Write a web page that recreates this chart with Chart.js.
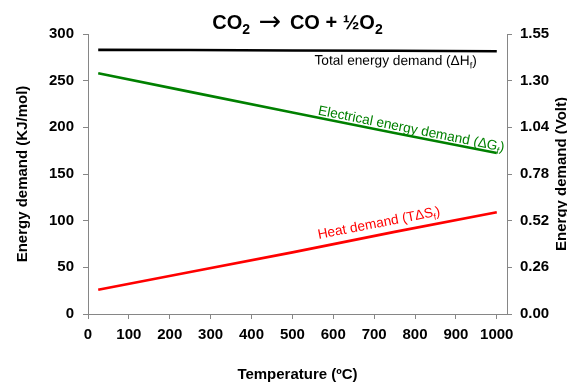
<!DOCTYPE html>
<html>
<head>
<meta charset="utf-8">
<script src="https://cdn.jsdelivr.net/npm/chart.js@4.4.1/dist/chart.umd.min.js"></script>
<style>
html, body { margin: 0; padding: 0; background: #fff; }
#wrap { width: 567px; height: 382px; }
</style>
</head>
<body>
<div id="wrap"><canvas id="myChart" width="567" height="382"></canvas></div>
<script>
// values
var temps = [25, 250, 500, 750, 1000];
var totalDemand = [283, 282.8, 282.4, 282, 281.5];
var electricalDemand = [258, 238, 216, 194, 172.5];
var heatDemand = [26, 45, 66, 88, 109];

var tempTicks = [0, 100, 200, 300, 400, 500, 600, 700, 800, 900, 1000];
var kjTicks = [0, 50, 100, 150, 200, 250, 300];
var voltTicks = ['0.00', '0.26', '0.52', '0.78', '1.04', '1.30', '1.55'];

var FAMILY = "'Liberation Sans', Arial, sans-serif";
var GREY = '#868686';

function toPoints(ys) {
    return temps.map(function (t, i) { return {x: t, y: ys[i]}; });
}

function fontFor(size, bold, family) {
    return (bold ? 'bold ' : '') + size + 'px ' + (family || FAMILY);
}

// text with subscript pieces
function pieceFont(p, size, bold) {
    var s = p.sub ? Math.round(size * 0.68) : size * (p.scale || 1);
    return fontFor(s, p.plain ? false : bold, p.family);
}

function drawParts(ctx, parts, x, y, align, size, bold, color) {
    var w = 0;
    parts.forEach(function (p) {
        ctx.font = pieceFont(p, size, bold);
        w += ctx.measureText(p.t).width;
    });
    var cx = align === 'right' ? x - w : (align === 'center' ? x - w / 2 : x);
    ctx.textAlign = 'left';
    ctx.textBaseline = 'alphabetic';
    ctx.fillStyle = color;
    parts.forEach(function (p) {
        ctx.font = pieceFont(p, size, bold);
        ctx.fillText(p.t, cx, y + (p.sub ? size * 0.25 : 0) + (p.dy || 0));
        cx += ctx.measureText(p.t).width;
    });
}

function lineAt(ys, t) {
    for (var i = 0; i < temps.length - 1; i++) {
        if (t >= temps[i] && t <= temps[i + 1]) {
            var f = (t - temps[i]) / (temps[i + 1] - temps[i]);
            return ys[i] + f * (ys[i + 1] - ys[i]);
        }
    }
    return ys[ys.length - 1];
}

var lineLabels = [
    {ys: totalDemand, t: 951, off: -14, align: 'right', color: '#000',
        parts: [{t: 'Total energy demand (\u0394H'}, {t: 'f', sub: true}, {t: ')'}]},
    {ys: electricalDemand, t: 560, off: 3, align: 'left', color: '#008000',
        parts: [{t: 'Electrical energy demand (\u0394G'}, {t: 'f', sub: true}, {t: ')'}]},
    {ys: heatDemand, t: 568, off: 8, align: 'left', color: '#ff0000',
        parts: [{t: 'Heat demand (T\u0394S'}, {t: 'f', sub: true}, {t: ')'}]}
];

var annotations = {
    id: 'annotations',
    afterDraw: function (chart) {
        var ctx = chart.ctx;
        var xs = chart.scales.x, ys = chart.scales.y;
        var area = chart.chartArea;

        // title
        ctx.save();
        drawParts(ctx, [
            {t: 'CO'}, {t: '2', sub: true, scale: 1},
            {t: ' \u2192 ', plain: true, scale: 1.35, family: "'DejaVu Sans', sans-serif", dy: 1},
            {t: 'CO + \u00BDO'}, {t: '2', sub: true}
        ], (area.left + area.right) / 2, 29, 'center', 20, true, '#000');
        ctx.restore();

        // labels along the lines
        lineLabels.forEach(function (lb) {
            var last = temps.length - 1;
            var ang = Math.atan2(ys.getPixelForValue(lb.ys[last]) - ys.getPixelForValue(lb.ys[0]),
                xs.getPixelForValue(temps[last]) - xs.getPixelForValue(temps[0]));
            ctx.save();
            ctx.translate(xs.getPixelForValue(lb.t), ys.getPixelForValue(lineAt(lb.ys, lb.t)));
            ctx.rotate(ang);
            drawParts(ctx, lb.parts, 0, -lb.off, lb.align, 13.7, false, lb.color);
            ctx.restore();
        });

        // right axis title reads upwards
        ctx.save();
        ctx.translate(562, (area.top + area.bottom) / 2);
        ctx.rotate(-Math.PI / 2);
        ctx.font = fontFor(15, true);
        ctx.fillStyle = '#000';
        ctx.textAlign = 'center';
        ctx.textBaseline = 'middle';
        ctx.fillText('Energy demand (Volt)', 0, 0);
        ctx.restore();
    }
};

Chart.defaults.font.family = FAMILY;

var mychart = new Chart(document.getElementById('myChart'), {
    type: 'line',
    data: {
        datasets: [
            {data: toPoints(totalDemand), borderColor: '#000', borderWidth: 2.6, pointRadius: 0},
            {data: toPoints(electricalDemand), borderColor: '#008000', borderWidth: 2.6, pointRadius: 0},
            {data: toPoints(heatDemand), borderColor: '#ff0000', borderWidth: 2.6, pointRadius: 0}
        ]
    },
    options: {
        responsive: false,
        animation: false,
        devicePixelRatio: 1,
        layout: {padding: {top: 34, left: 0, right: 0, bottom: 0}},
        plugins: {
            legend: {display: false},
            tooltip: {enabled: false}
        },
        scales: {
            x: {
                type: 'linear', position: 'bottom', min: 0, max: 1025,
                afterBuildTicks: function (s) { s.ticks = tempTicks.map(function (v) { return {value: v}; }); },
                afterFit: function (s) { s.height = 68; s.paddingLeft = 0; s.paddingRight = 0; },
                ticks: {color: '#000', font: {size: 15, weight: 'bold'}, padding: 7, maxRotation: 0, autoSkip: false,
                    callback: function (v) { return String(v); }},
                grid: {drawOnChartArea: false, color: GREY, tickLength: 5},
                border: {color: GREY},
                title: {display: true, text: 'Temperature (\u00BAC)', color: '#000',
                    font: {size: 15, weight: 'bold', lineHeight: 1}, padding: {top: 0, bottom: 0}}
            },
            y: {
                type: 'linear', position: 'left', min: 0, max: 300,
                afterBuildTicks: function (s) { s.ticks = kjTicks.map(function (v) { return {value: v}; }); },
                afterFit: function (s) { s.width = 88; s.paddingTop = 0; s.paddingBottom = 0; },
                ticks: {color: '#000', font: {size: 15, weight: 'bold'}, padding: 9},
                grid: {drawOnChartArea: false, color: GREY, tickLength: 5},
                border: {color: GREY},
                title: {display: true, text: 'Energy demand (KJ/mol)', color: '#000',
                    font: {size: 15, weight: 'bold', lineHeight: 1}, padding: {top: 15, bottom: 0}}
            },
            y2: {
                type: 'linear', position: 'right', min: 0, max: 300,
                afterBuildTicks: function (s) { s.ticks = kjTicks.map(function (v) { return {value: v}; }); },
                afterFit: function (s) { s.width = 60; s.paddingTop = 0; s.paddingBottom = 0; },
                ticks: {color: '#000', font: {size: 15, weight: 'bold'}, padding: 8,
                    callback: function (v, i) { return voltTicks[i]; }},
                grid: {drawOnChartArea: false, color: GREY, tickLength: 5},
                border: {color: GREY}
            }
        }
    },
    plugins: [annotations]
});
</script>
</body>
</html>
